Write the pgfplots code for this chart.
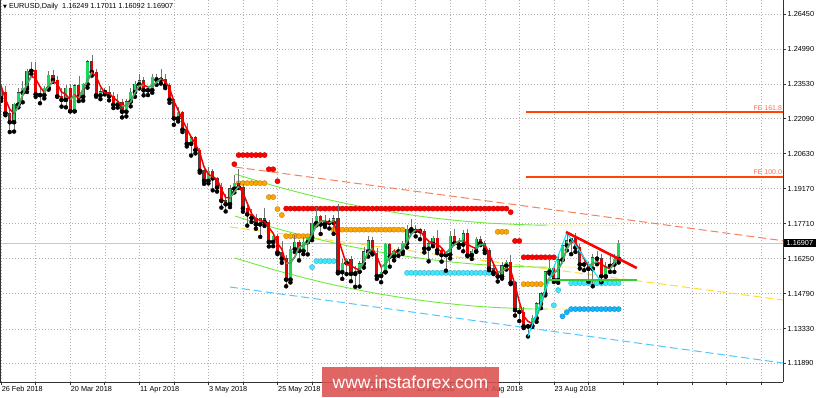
\documentclass[border=0pt]{standalone}
\usepackage{fontspec}
\setmainfont{Liberation Sans}
\newfontfamily\dejavu{DejaVu Sans}
\usepackage{pgfplots}
\usepackage{pgfplotstable}
\pgfplotsset{compat=1.18}
\definecolor{upg}{RGB}{30,215,90}
\definecolor{dnr}{RGB}{235,0,0}
\definecolor{maG}{RGB}{60,179,113}
\definecolor{maR}{RGB}{245,0,0}
\definecolor{dotR}{RGB}{255,0,0}
\definecolor{dotO}{RGB}{255,165,0}
\definecolor{dotC}{RGB}{64,232,255}
\definecolor{dotB}{RGB}{20,180,255}
\definecolor{chG}{RGB}{110,235,60}
\definecolor{chY}{RGB}{255,245,130}
\definecolor{dOr}{RGB}{245,130,90}
\definecolor{dYe}{RGB}{255,220,50}
\definecolor{dBl}{RGB}{80,200,255}
\definecolor{fe}{RGB}{255,69,0}
\definecolor{feT}{RGB}{255,110,70}
\definecolor{trendG}{RGB}{50,205,50}
\definecolor{wm}{RGB}{220,80,80}
\definecolor{zz}{RGB}{0,235,255}

\pgfplotstableread{
i O H L C M
0 1.2294 1.2354 1.2283 1.2318 1.2345
1 1.2318 1.2345 1.2223 1.2232 1.2290
2 1.2232 1.2245 1.2153 1.2194 1.2248
3 1.2194 1.2273 1.2155 1.2268 1.2231
4 1.2268 1.2336 1.2256 1.2317 1.2260
5 1.2317 1.2366 1.2277 1.2336 1.2307
6 1.2336 1.2415 1.2320 1.2408 1.2354
7 1.2408 1.2446 1.2395 1.2410 1.2385
8 1.2410 1.2446 1.2300 1.2310 1.2376
9 1.2310 1.2335 1.2273 1.2307 1.2342
10 1.2307 1.2346 1.2293 1.2336 1.2318
11 1.2336 1.2409 1.2330 1.2389 1.2344
12 1.2389 1.2413 1.2362 1.2370 1.2365
13 1.2370 1.2385 1.2300 1.2302 1.2354
14 1.2302 1.2336 1.2259 1.2287 1.2320
15 1.2287 1.2349 1.2256 1.2337 1.2309
16 1.2337 1.2355 1.2239 1.2240 1.2288
17 1.2240 1.2355 1.2239 1.2346 1.2308
18 1.2346 1.2388 1.2282 1.2300 1.2295
19 1.2300 1.2357 1.2284 1.2352 1.2333
20 1.2352 1.2455 1.2338 1.2447 1.2366
21 1.2447 1.2476 1.2388 1.2403 1.2401
22 1.2403 1.2415 1.2300 1.2306 1.2385
23 1.2306 1.2336 1.2290 1.2322 1.2344
24 1.2322 1.2335 1.2310 1.2320 1.2316
25 1.2320 1.2345 1.2285 1.2302 1.2315
26 1.2302 1.2320 1.2253 1.2267 1.2296
27 1.2267 1.2311 1.2255 1.2277 1.2282
28 1.2277 1.2290 1.2214 1.2238 1.2261
29 1.2238 1.2291 1.2218 1.2280 1.2265
30 1.2280 1.2338 1.2260 1.2320 1.2279
31 1.2320 1.2367 1.2300 1.2352 1.2317
32 1.2352 1.2397 1.2335 1.2367 1.2346
33 1.2367 1.2383 1.2306 1.2327 1.2349
34 1.2327 1.2346 1.2307 1.2328 1.2341
35 1.2328 1.2396 1.2317 1.2381 1.2345
36 1.2381 1.2395 1.2350 1.2371 1.2360
37 1.2371 1.2414 1.2355 1.2373 1.2375
38 1.2373 1.2396 1.2336 1.2347 1.2364
39 1.2347 1.2357 1.2275 1.2288 1.2336
40 1.2288 1.2291 1.2183 1.2210 1.2282
41 1.2210 1.2256 1.2197 1.2235 1.2244
42 1.2235 1.2239 1.2153 1.2163 1.2203
43 1.2163 1.2189 1.2093 1.2104 1.2167
44 1.2104 1.2136 1.2055 1.2130 1.2132
45 1.2130 1.2138 1.2064 1.2078 1.2104
46 1.2078 1.2085 1.1984 1.1992 1.2067
47 1.1992 1.2012 1.1937 1.1950 1.2007
48 1.1950 1.2009 1.1939 1.1989 1.1977
49 1.1989 1.1997 1.1910 1.1960 1.1966
50 1.1960 1.1967 1.1905 1.1922 1.1957
51 1.1922 1.1939 1.1838 1.1867 1.1916
52 1.1867 1.1895 1.1822 1.1852 1.1880
53 1.1852 1.1934 1.1840 1.1917 1.1879
54 1.1917 1.1973 1.1901 1.1941 1.1903
55 1.1941 1.1997 1.1920 1.1923 1.1927
56 1.1923 1.1937 1.1821 1.1835 1.1900
57 1.1835 1.1850 1.1763 1.1810 1.1856
58 1.1810 1.1833 1.1778 1.1795 1.1813
59 1.1795 1.1812 1.1750 1.1768 1.1791
60 1.1768 1.1796 1.1716 1.1792 1.1785
61 1.1792 1.1836 1.1762 1.1778 1.1779
62 1.1778 1.1785 1.1676 1.1695 1.1755
63 1.1695 1.1732 1.1677 1.1720 1.1731
64 1.1720 1.1729 1.1644 1.1651 1.1689
65 1.1651 1.1700 1.1608 1.1625 1.1665
66 1.1625 1.1640 1.1510 1.1538 1.1605
67 1.1538 1.1676 1.1526 1.1665 1.1609
68 1.1665 1.1722 1.1653 1.1693 1.1632
69 1.1693 1.1703 1.1618 1.1658 1.1672
70 1.1658 1.1716 1.1644 1.1694 1.1682
71 1.1694 1.1716 1.1643 1.1715 1.1689
72 1.1715 1.1795 1.1702 1.1774 1.1728
73 1.1774 1.1839 1.1764 1.1801 1.1763
74 1.1801 1.1806 1.1728 1.1768 1.1781
75 1.1768 1.1809 1.1757 1.1781 1.1783
76 1.1781 1.1793 1.1751 1.1775 1.1775
77 1.1775 1.1808 1.1729 1.1792 1.1783
78 1.1792 1.1852 1.1564 1.1569 1.1712
79 1.1569 1.1625 1.1541 1.1607 1.1656
80 1.1607 1.1627 1.1561 1.1623 1.1600
81 1.1623 1.1635 1.1531 1.1562 1.1597
82 1.1562 1.1594 1.1508 1.1571 1.1585
83 1.1571 1.1616 1.1509 1.1604 1.1579
84 1.1604 1.1675 1.1588 1.1655 1.1610
85 1.1655 1.1719 1.1634 1.1700 1.1653
86 1.1700 1.1716 1.1643 1.1648 1.1668
87 1.1648 1.1671 1.1541 1.1553 1.1634
88 1.1553 1.1593 1.1527 1.1570 1.1590
89 1.1570 1.1690 1.1568 1.1685 1.1603
90 1.1685 1.1692 1.1592 1.1634 1.1630
91 1.1634 1.1666 1.1618 1.1656 1.1658
92 1.1656 1.1673 1.1637 1.1655 1.1648
93 1.1655 1.1697 1.1645 1.1689 1.1667
94 1.1689 1.1764 1.1672 1.1747 1.1697
95 1.1747 1.1791 1.1737 1.1748 1.1728
96 1.1748 1.1765 1.1718 1.1741 1.1745
97 1.1741 1.1754 1.1706 1.1740 1.1743
98 1.1740 1.1747 1.1651 1.1667 1.1716
99 1.1667 1.1697 1.1614 1.1687 1.1698
100 1.1687 1.1721 1.1677 1.1710 1.1688
101 1.1710 1.1745 1.1648 1.1660 1.1686
102 1.1660 1.1666 1.1613 1.1640 1.1670
103 1.1640 1.1656 1.1575 1.1642 1.1647
104 1.1642 1.1741 1.1626 1.1720 1.1667
105 1.1720 1.1749 1.1690 1.1690 1.1684
106 1.1690 1.1712 1.1671 1.1684 1.1698
107 1.1684 1.1746 1.1656 1.1730 1.1701
108 1.1730 1.1747 1.1635 1.1640 1.1685
109 1.1640 1.1665 1.1624 1.1656 1.1675
110 1.1656 1.1716 1.1654 1.1706 1.1667
111 1.1706 1.1720 1.1682 1.1690 1.1684
112 1.1690 1.1698 1.1649 1.1660 1.1685
113 1.1660 1.1668 1.1577 1.1584 1.1645
114 1.1584 1.1613 1.1561 1.1568 1.1604
115 1.1568 1.1574 1.1530 1.1551 1.1568
116 1.1551 1.1610 1.1542 1.1596 1.1572
117 1.1596 1.1620 1.1580 1.1610 1.1586
118 1.1610 1.1640 1.1519 1.1525 1.1577
119 1.1525 1.1534 1.1388 1.1411 1.1515
120 1.1411 1.1432 1.1365 1.1403 1.1446
121 1.1403 1.1424 1.1336 1.1343 1.1386
122 1.1343 1.1347 1.1301 1.1345 1.1364
123 1.1345 1.1392 1.1341 1.1377 1.1355
124 1.1377 1.1446 1.1362 1.1437 1.1386
125 1.1437 1.1488 1.1419 1.1479 1.1431
126 1.1479 1.1573 1.1472 1.1571 1.1496
127 1.1571 1.1623 1.1563 1.1586 1.1545
128 1.1586 1.1600 1.1528 1.1536 1.1564
129 1.1536 1.1641 1.1525 1.1621 1.1581
130 1.1621 1.1690 1.1619 1.1680 1.1612
131 1.1680 1.1733 1.1660 1.1700 1.1667
132 1.1700 1.1710 1.1644 1.1709 1.1696
133 1.1709 1.1733 1.1653 1.1671 1.1693
134 1.1671 1.1686 1.1584 1.1601 1.1660
135 1.1601 1.1621 1.1577 1.1602 1.1625
136 1.1602 1.1611 1.1529 1.1583 1.1595
137 1.1583 1.1643 1.1510 1.1629 1.1605
138 1.1629 1.1657 1.1602 1.1625 1.1612
139 1.1625 1.1646 1.1527 1.1552 1.1602
140 1.1552 1.1610 1.1550 1.1595 1.1591
141 1.1595 1.1645 1.1570 1.1601 1.1583
142 1.1601 1.1645 1.1570 1.1624 1.1607
143 1.16249 1.17011 1.16092 1.16907 1.1639
}\data

\begin{document}
\begin{tikzpicture}
\begin{axis}[
  scale only axis, width=783pt, height=382pt,
  xmin=-0.26, xmax=181.06, ymin=1.11111, ymax=1.27034,
  axis x line*=bottom, axis y line*=right,
  axis line style={black!80, line width=0.8pt},
  clip mode=individual,
  xtick={0,8,...,176},
  xticklabels={26 Feb 2018,,20 Mar 2018,,11 Apr 2018,,3 May 2018,,25 May 2018,,18 Jun 2018,,10 Jul 2018,,1 Aug 2018,,23 Aug 2018,,,,,,},
  ytick={1.11890,1.13330,1.14790,1.16250,1.17710,1.19170,1.20630,1.22090,1.23530,1.24990,1.26450},
  yticklabels={1.11890,1.13330,1.14790,1.16250,1.17710,1.19170,1.20630,1.22090,1.23530,1.24990,1.26450},
  tick align=outside, major tick length=3pt,
  tick style={black!80, line width=0.6pt},
  grid=major,
  major grid style={black!30, dash pattern=on 1.2pt off 1.8pt, line width=0.5pt},
  ticklabel style={font=\fontsize{7.3}{8}\selectfont},
  xticklabel style={anchor=north west, inner sep=0pt, yshift=-1.5pt, xshift=0.5pt},
  yticklabel style={anchor=west, inner sep=0pt, xshift=1.5pt},
  dotstyle/.style={only marks, mark=*, mark size=2.6pt, draw=#1!75!black, fill=#1, mark options={draw=#1!75!black, fill=#1, line width=0.35pt}},
]
% current price line
\addplot[black!22, line width=0.8pt] coordinates {(-1,1.16907) (182,1.16907)};
% dashed channel lines
\addplot[dOr, line width=1pt, dash pattern=on 8pt off 4pt] coordinates {(54.13,1.20073) (181.06,1.1700)};
\addplot[dYe, line width=1pt, dash pattern=on 8pt off 4pt] coordinates {(52.98,1.17572) (181.06,1.14529)};
\addplot[dBl, line width=1pt, dash pattern=on 8pt off 4pt] coordinates {(52.98,1.15071) (181.06,1.11903)};
% regression curves
\addplot[chG, line width=0.9pt, smooth] coordinates {(54.13,1.19781) (64.55,1.19222) (76.13,1.18697) (87.70,1.18280) (99.27,1.17968) (110.85,1.17759) (122.42,1.17659) (126.58,1.17655)};
\addplot[chG, line width=0.9pt, smooth] coordinates {(54.13,1.18030) (64.55,1.17471) (76.13,1.16946) (87.70,1.16529) (99.27,1.16217) (110.85,1.16008) (122.42,1.15908) (126.58,1.15904)};
\addplot[chG, line width=0.9pt, smooth] coordinates {(54.13,1.16280) (64.55,1.15721) (76.13,1.15196) (87.70,1.14779) (99.27,1.14467) (110.85,1.14258) (122.42,1.14158) (126.58,1.14154)};
\addplot[chY, line width=0.9pt] coordinates {(126.58,1.17655) (142.56,1.17640)};
\addplot[chY, line width=0.9pt] coordinates {(126.58,1.15904) (142.56,1.15890)};
\addplot[chY, line width=0.9pt] coordinates {(126.58,1.14154) (142.56,1.14140)};
% FE levels
\addplot[fe, line width=2.4pt] coordinates {(121.5,1.22353) (182,1.22353)};
\addplot[fe, line width=2.4pt] coordinates {(121.5,1.19668) (182,1.19668)};
% dots
\addplot[dotstyle=dotO] coordinates {
(55,1.1940)(56,1.1940)(57,1.1940)(58,1.1940)(59,1.1940)(60,1.1940)(61,1.1940)
(62,1.1882)(63,1.1882)(64,1.1832)(65,1.1807)
(66,1.1719)(67,1.1719)(68,1.1719)(69,1.1719)(70,1.1719)(71,1.1719)
(77,1.1746)(78,1.1746)(79,1.1746)(80,1.1746)(81,1.1746)(82,1.1746)(83,1.1746)(84,1.1746)(85,1.1746)
(86,1.1746)(87,1.1746)(88,1.1746)(89,1.1746)(90,1.1746)(91,1.1746)(92,1.1746)(93,1.1746)
(115,1.1737)(116,1.1737)(117,1.1737)
(121,1.1519)(122,1.1519)(123,1.1519)(124,1.1519)(125,1.1519)};
\addplot[dotstyle=dotR] coordinates {
(54,1.2019)
(55,1.2057)(56,1.2057)(57,1.2057)(58,1.2057)(59,1.2057)(60,1.2057)(61,1.2057)
(62,1.1998)(63,1.1998)(64,1.1948)
(66,1.1834)(67,1.1834)(68,1.1834)(69,1.1834)(70,1.1834)(71,1.1834)(72,1.1834)(73,1.1834)(74,1.1834)
(75,1.1834)(76,1.1834)(77,1.1834)(78,1.1834)(79,1.1834)(80,1.1834)(81,1.1834)(82,1.1834)(83,1.1834)
(84,1.1834)(85,1.1834)(86,1.1834)(87,1.1834)(88,1.1834)(89,1.1834)(90,1.1834)(91,1.1834)(92,1.1834)
(93,1.1834)(94,1.1834)(95,1.1834)(96,1.1834)(97,1.1834)(98,1.1834)(99,1.1834)(100,1.1834)(101,1.1834)
(102,1.1834)(103,1.1834)(104,1.1834)(105,1.1834)(106,1.1834)(107,1.1834)(108,1.1834)(109,1.1834)
(110,1.1834)(111,1.1834)(112,1.1834)(113,1.1834)(114,1.1834)(115,1.1834)(116,1.1834)(117,1.1834)
(118,1.1819)
(119,1.1699)(120,1.1699)
(121,1.1631)(122,1.1631)(123,1.1631)(124,1.1631)(125,1.1631)(126,1.1631)(127,1.1631)(128,1.1631)};
\addplot[dotstyle=dotC] coordinates {
(72,1.1590)(73,1.1615)(74,1.1615)(75,1.1615)(76,1.1615)(77,1.1615)
(94,1.1566)(95,1.1566)(96,1.1566)(97,1.1566)(98,1.1566)(99,1.1566)(100,1.1566)(101,1.1566)
(102,1.1566)(103,1.1566)(104,1.1566)(105,1.1566)(106,1.1566)(107,1.1566)(108,1.1566)(109,1.1566)
(110,1.1566)(111,1.1566)(112,1.1566)(113,1.1566)(114,1.1566)
(128,1.1431)(129,1.1494)
(132,1.1523)(133,1.1523)(134,1.1523)(135,1.1523)(136,1.1523)(137,1.1523)(138,1.1523)(139,1.1523)
(140,1.1523)(141,1.1523)(142,1.1523)(143,1.1523)};
\addplot[dotstyle=dotB] coordinates {
(130,1.1385)(131,1.1402)
(132,1.1415)(133,1.1415)(134,1.1415)(135,1.1415)(136,1.1415)(137,1.1415)(138,1.1415)(139,1.1415)
(140,1.1415)(141,1.1415)(142,1.1415)(143,1.1415)};
% candles: wicks
\addplot[only marks, mark=none, error bars/.cd, y dir=plus, y explicit, error mark=none,
  error bar style={black!55, line width=0.6pt}]
  table[x=i, y=L, y error plus expr=\thisrow{H}-\thisrow{L}] {\data};
% up bodies
\addplot[only marks, mark=none, restrict expr to domain={\thisrow{C}-\thisrow{O}}{0:1},
  error bars/.cd, y dir=plus, y explicit, error mark=none,
  error bar style={black!75, line width=3.2pt, shorten <=-0.35pt, shorten >=-0.35pt}]
  table[x=i, y=O, y error plus expr=\thisrow{C}-\thisrow{O}] {\data};
\addplot[only marks, mark=none, restrict expr to domain={\thisrow{C}-\thisrow{O}}{0:1},
  error bars/.cd, y dir=plus, y explicit, error mark=none,
  error bar style={upg, line width=2.5pt}]
  table[x=i, y=O, y error plus expr=\thisrow{C}-\thisrow{O}] {\data};
% down bodies
\addplot[only marks, mark=none, restrict expr to domain={\thisrow{O}-\thisrow{C}}{0.00001:1},
  error bars/.cd, y dir=plus, y explicit, error mark=none,
  error bar style={black!75, line width=3.2pt, shorten <=-0.35pt, shorten >=-0.35pt}]
  table[x=i, y=C, y error plus expr=\thisrow{O}-\thisrow{C}] {\data};
\addplot[only marks, mark=none, restrict expr to domain={\thisrow{O}-\thisrow{C}}{0.00001:1},
  error bars/.cd, y dir=plus, y explicit, error mark=none,
  error bar style={dnr, line width=2.5pt}]
  table[x=i, y=C, y error plus expr=\thisrow{O}-\thisrow{C}] {\data};
% moving average: red everywhere, green on rising runs
\addplot[maR, line width=1.5pt] table[x=i, y=M] {\data};
\addplot[maG, line width=1.5pt, restrict x to domain=3:7] table[x=i, y=M] {\data};
\addplot[maG, line width=1.5pt, restrict x to domain=10:12] table[x=i, y=M] {\data};
\addplot[maG, line width=1.5pt, restrict x to domain=16:17] table[x=i, y=M] {\data};
\addplot[maG, line width=1.5pt, restrict x to domain=18:21] table[x=i, y=M] {\data};
\addplot[maG, line width=1.5pt, restrict x to domain=28:33] table[x=i, y=M] {\data};
\addplot[maG, line width=1.5pt, restrict x to domain=34:37] table[x=i, y=M] {\data};
\addplot[maG, line width=1.5pt, restrict x to domain=53:55] table[x=i, y=M] {\data};
\addplot[maG, line width=1.5pt, restrict x to domain=66:75] table[x=i, y=M] {\data};
\addplot[maG, line width=1.5pt, restrict x to domain=76:77] table[x=i, y=M] {\data};
\addplot[maG, line width=1.5pt, restrict x to domain=83:86] table[x=i, y=M] {\data};
\addplot[maG, line width=1.5pt, restrict x to domain=88:91] table[x=i, y=M] {\data};
\addplot[maG, line width=1.5pt, restrict x to domain=92:96] table[x=i, y=M] {\data};
\addplot[maG, line width=1.5pt, restrict x to domain=103:107] table[x=i, y=M] {\data};
\addplot[maG, line width=1.5pt, restrict x to domain=110:112] table[x=i, y=M] {\data};
\addplot[maG, line width=1.5pt, restrict x to domain=115:117] table[x=i, y=M] {\data};
\addplot[maG, line width=1.5pt, restrict x to domain=123:132] table[x=i, y=M] {\data};
\addplot[maG, line width=1.5pt, restrict x to domain=136:138] table[x=i, y=M] {\data};
\addplot[maG, line width=1.5pt, restrict x to domain=141:143] table[x=i, y=M] {\data};
% zigzag, support and trend line
\addplot[zz, line width=1.1pt] coordinates {(122,1.1301) (131,1.1733) (139,1.1527)};
\addplot[trendG, line width=2.6pt] coordinates {(126.4,1.1536) (147.2,1.1536)};
\addplot[dotR, line width=2.6pt] coordinates {(130.8,1.17363) (147.2,1.15863)};
% labels
\node[anchor=south east, inner sep=0.6pt, text=feT, font=\fontsize{7}{8}\selectfont] at (axis cs:181.0,1.2241) {FE 161.8};
\node[anchor=south east, inner sep=0.6pt, text=feT, font=\fontsize{7}{8}\selectfont] at (axis cs:181.0,1.1972) {FE 100.0};
\node[anchor=north west, inner sep=0pt, font=\fontsize{7.3}{8}\selectfont] at (rel axis cs:0,1) [xshift=3pt, yshift=-3pt] {{\dejavu\fontsize{5}{6}\selectfont ▼}\ EURUSD,Daily\ \ 1.16249 1.17011 1.16092 1.16907};
\node[anchor=west, fill=black, text=white, inner xsep=2.5pt, inner ysep=1.2pt, font=\fontsize{7.3}{8}\selectfont] at (axis cs:181.06,1.16907) [xshift=1pt] {1.16907};
\draw[black!80, line width=0.8pt] (rel axis cs:0,0) -- (rel axis cs:0,1);
\end{axis}
\node[fill=wm, fill opacity=0.88, text opacity=1, text=white, minimum width=177pt, minimum height=30pt, inner sep=0pt, font=\fontsize{17.5}{18}\selectfont] at (410.5pt,0pt) {www.instaforex.com};
\pgfresetboundingbox
\path[use as bounding box] (0pt,-15pt) rectangle (820pt,382pt);
\end{tikzpicture}
\end{document}
